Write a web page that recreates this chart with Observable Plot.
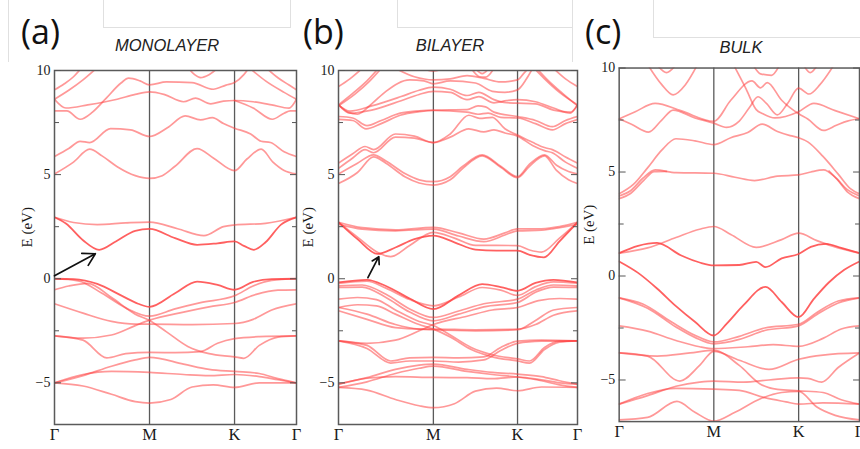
<!DOCTYPE html>
<html><head><meta charset="utf-8">
<script src="https://cdn.jsdelivr.net/npm/d3@7"></script>
<script src="https://cdn.jsdelivr.net/npm/@observablehq/plot@0.6"></script>
<style>
body{margin:0;background:#fff}
#root{position:relative;width:860px;height:449px;overflow:hidden;background:#fff}
.p{position:absolute;top:0}
.title{position:absolute;font-family:"Liberation Sans",Arial,sans-serif;font-style:italic;font-size:16.5px;color:#222;transform:translateX(-50%);white-space:nowrap;line-height:1}
.lab{position:absolute;font-family:"Open Sans",sans-serif;font-size:34px;color:#111;line-height:1}
.box{position:absolute;border:1px solid #e0e0e0;box-sizing:border-box}
.vl{position:absolute;width:1px;background:#e0e0e0}
</style></head><body><div id="root"></div><script>
// ---- axis data ----
const kLabels = ["Γ", "M", "K", "Γ"];
// path length of the high-symmetry points Γ, M, K, Γ (units of |ΓM|) per panel
const monoPath = [0, 1, 1.895, 2.547];
const biPath = [0, 1, 1.887, 2.519];
const bulkPath = [0, 1, 1.896, 2.539];
const yMajor = [-5, 0, 5, 10];
const yMinor = [-2.5, 2.5, 7.5];
const panelTitles = ["MONOLAYER", "BILAYER", "BULK"];
const panelLetters = ["(a)", "(b)", "(c)"];

// ---- (a) monolayer: [k, E] with k: Γ=0, M=1, K=2, Γ=3 ----
const monoEdge = [
  [[0,2.95],[0.12,2.65],[0.3,1.85],[0.47,1.39],[0.65,1.8],[0.85,2.3],[1,2.39],[1.3,1.95],[1.56,1.63],[1.8,1.7],[2,1.79],[2.15,1.58],[2.31,1.39],[2.5,1.75],[2.75,2.6],[3,2.95]],
  [[0,0],[0.2,-0.02],[0.45,-0.25],[0.7,-0.8],[0.88,-1.2],[1,-1.35],[1.3,-0.7],[1.56,-0.14],[1.8,-0.3],[2,-0.53],[2.3,-0.15],[2.6,-0.02],[3,0]]
];
const monoConduction = [
  [[0,2.95],[0.2,2.7],[0.45,2.6],[0.75,2.68],[1,2.72],[1.33,2.4],[1.64,2.07],[1.87,2.5],[2,2.58],[2.5,2.66],[3,2.95]],
  [[0,5.03],[0.2,5.6],[0.37,6.22],[0.5,5.9],[0.66,5.38],[0.85,4.95],[1,4.82],[1.15,4.95],[1.3,5.4],[1.56,6.25],[1.75,5.8],[2,5.19],[2.2,5.75],[2.43,6.22],[2.62,5.6],[2.8,5.2],[3,5.03]],
  [[0,5.87],[0.15,6.25],[0.27,6.6],[0.37,6.54],[0.59,7.21],[0.8,7.15],[1,6.83],[1.21,7.25],[1.42,7.82],[1.6,7.63],[1.74,7.74],[1.87,7.45],[2,7.23],[2.26,6.95],[2.43,6.6],[2.58,6.54],[2.8,6.1],[3,5.87]],
  [[0,8.62],[0.12,8.2],[0.35,8.35],[0.66,8.62],[0.85,8.85],[1,8.97],[1.17,8.85],[1.4,8.5],[1.54,8.67],[1.72,8.4],[1.87,8.53],[2,8.56],[2.3,8.5],[2.6,8.35],[2.88,8.19],[3,8.62]],
  [[0,8.06],[0.13,8.06],[0.27,7.66],[0.4,8.0],[0.55,8.7],[0.7,9.4],[0.78,9.63],[0.9,9.5],[1,9.31],[1.2,9.45],[1.5,9.42],[1.75,9.1],[1.9,9.3],[2,9.42],[2.15,9.8],[2.25,10.2]],
  [[2,8.56],[2.3,8.2],[2.61,7.66],[2.8,7.95],[2.9,8.06],[3,8.06]],
  [[0,9.07],[0.1,9.35],[0.2,9.7],[0.28,10.1]],
  [[0,8.62],[0.15,9.05],[0.3,9.55],[0.44,10.1]],
  [[2.52,10.1],[2.7,9.65],[2.88,9.3],[3,9.07]],
  [[2.25,10.1],[2.5,9.5],[2.8,8.95],[3,8.62]],
  [[1.46,10.1],[1.53,9.8],[1.6,9.66],[1.7,9.8],[1.8,10.1]]
];
const monoValence = [
  [[0,0],[0.25,-0.1],[0.5,-0.7],[0.75,-1.4],[1,-1.8],[1.3,-1.45],[1.6,-1.15],[2,-0.82],[2.3,-0.35],[2.6,-0.08],[3,0]],
  [[0,-0.53],[0.15,-0.35],[0.35,-0.22],[0.6,-0.9],[0.85,-1.7],[1,-2.0],[1.2,-2.55],[1.45,-3.25],[1.7,-3.6],[2,-3.75],[2.15,-3.82],[2.4,-3.2],[2.7,-2.8],[3,-2.74]],
  [[0,-1.2],[0.3,-1.65],[0.6,-2.05],[0.85,-2.18],[1,-2.18],[1.5,-2.2],[2,-2.15],[2.3,-1.95],[2.6,-1.5],[3,-1.2]],
  [[0,-2.74],[0.3,-2.85],[0.6,-2.7],[0.85,-2.25],[1,-1.99],[1.4,-1.6],[1.7,-1.35],[2,-1.14],[2.35,-0.75],[2.7,-0.55],[3,-0.53]],
  [[0,-2.74],[0.3,-2.95],[0.55,-3.8],[0.75,-3.6],[1,-3.54],[1.3,-3.55],[1.6,-3.5],[1.8,-3.1],[2,-2.88],[2.4,-2.78],[3,-2.74]],
  [[0,-5.0],[0.3,-4.65],[0.6,-4.2],[0.85,-3.9],[1,-3.78],[1.4,-4.1],[1.7,-4.35],[2,-4.45],[2.4,-4.55],[2.7,-4.8],[3,-5.0]],
  [[0,-5.0],[0.3,-4.6],[0.6,-4.45],[1,-4.5],[1.4,-4.6],[1.7,-4.65],[2,-4.6],[2.4,-4.7],[2.7,-4.85],[3,-5.0]],
  [[0,-5.0],[0.3,-5.15],[0.6,-5.55],[0.85,-5.9],[1,-5.97],[1.25,-5.8],[1.5,-5.2],[1.75,-5.1],[2,-5.22],[2.4,-5.0],[3,-5.0]]
];
const monoArrow = [{k1: 0, E1: 0.14, k2: 0.43, E2: 1.2}];

// ---- (b) bilayer ----
const biEdge = [
  [[0,2.71],[0.2,1.9],[0.41,1.19],[0.6,1.5],[0.8,1.9],[1,2.07],[1.25,1.75],[1.5,1.4],[1.75,1.35],[2,1.35],[2.2,1.15],[2.44,1.03],[2.7,1.8],[3,2.71]],
  [[0,-0.18],[0.3,-0.05],[0.5,-0.35],[0.75,-0.95],[1,-1.46],[1.3,-0.8],[1.58,-0.26],[1.8,-0.4],[2,-0.58],[2.3,-0.2],[2.6,-0.05],[3,-0.18]]
];
const biConduction = [
  [[0,2.71],[0.2,2.0],[0.4,1.3],[0.55,1.06],[0.75,1.6],[1,2.23],[1.25,1.95],[1.5,1.6],[1.75,1.6],[2,1.59],[2.2,1.38],[2.4,1.28],[2.7,1.95],[3,2.71]],
  [[0,2.71],[0.25,2.45],[0.6,2.35],[1,2.47],[1.3,2.2],[1.6,1.9],[1.85,2.2],[2,2.39],[2.4,2.4],[2.7,2.5],[3,2.71]],
  [[0,2.62],[0.25,2.38],[0.6,2.3],[1,2.38],[1.3,2.05],[1.6,1.78],[1.85,2.1],[2,2.3],[2.4,2.33],[2.7,2.45],[3,2.62]],
  [[0,5.03],[0.2,5.55],[0.37,5.95],[0.5,5.65],[0.7,5.05],[0.85,4.75],[1,4.66],[1.2,4.9],[1.35,5.4],[1.58,5.95],[1.8,5.4],[2,4.9],[2.2,5.5],[2.45,5.95],[2.65,5.45],[2.85,5.15],[3,5.03]],
  [[0,4.57],[0.2,5.1],[0.37,5.85],[0.5,5.55],[0.7,4.9],[0.85,4.6],[1,4.5],[1.2,4.75],[1.35,5.3],[1.58,5.9],[1.8,5.35],[2,4.85],[2.2,5.4],[2.45,5.9],[2.65,5.2],[2.85,4.75],[3,4.57]],
  [[0,5.55],[0.15,6.0],[0.28,6.35],[0.37,6.2],[0.6,6.95],[0.8,6.85],[1,6.54],[1.2,6.95],[1.42,7.85],[1.55,7.7],[1.7,7.75],[1.85,7.2],[2,6.9],[2.25,6.55],[2.45,6.3],[2.58,6.2],[2.8,5.85],[3,5.55]],
  [[0,5.3],[0.15,5.8],[0.28,6.2],[0.37,6.05],[0.6,6.8],[0.8,6.75],[1,6.54],[1.2,6.8],[1.42,7.2],[1.6,7.05],[1.72,7.15],[1.85,7.0],[2,6.85],[2.25,6.4],[2.45,6.15],[2.58,6.05],[2.8,5.6],[3,5.3]],
  [[0,7.79],[0.15,7.72],[0.3,7.35],[0.45,7.6],[0.65,7.95],[0.85,8.06],[1,8.1],[1.4,8.12],[1.53,8.3],[1.62,8.25],[1.72,8.0],[2,7.79],[2.3,7.6],[2.58,7.3],[2.8,7.6],[3,7.79]],
  [[0,7.65],[0.15,7.6],[0.29,7.2],[0.45,7.45],[0.65,7.85],[0.85,8.02],[1,8.08],[1.4,8.0],[1.53,7.9],[1.65,7.95],[1.8,7.75],[2,7.72],[2.3,7.45],[2.58,7.15],[2.8,7.45],[3,7.65]],
  [[0,8.35],[0.12,7.95],[0.35,8.1],[0.66,8.55],[0.85,8.85],[1,9.0],[1.2,8.95],[1.4,8.6],[1.54,8.75],[1.72,8.45],[1.87,8.55],[2,8.6],[2.3,8.5],[2.6,8.2],[2.88,7.95],[3,8.35]],
  [[0,8.35],[0.12,8.05],[0.35,8.3],[0.66,8.75],[0.85,9.05],[1,9.2],[1.2,9.1],[1.4,8.8],[1.54,8.95],[1.72,8.6],[1.87,8.45],[2,8.43],[2.3,8.4],[2.6,8.1],[2.88,8.0],[3,8.35]],
  [[0,8.35],[0.1,8.0],[0.2,7.9],[0.35,8.4],[0.5,9.0],[0.75,9.55],[0.9,9.5],[1,9.36],[1.2,9.5],[1.5,9.4],[1.7,9.0],[1.85,8.95],[2,9.07],[2.15,9.6],[2.25,10.1]],
  [[0.6,10.1],[0.8,9.7],[1,9.55],[1.2,9.6],[1.4,9.75],[1.6,9.62],[1.8,9.45],[2,9.55],[2.1,9.85],[2.18,10.1]],
  [[0,8.35],[0.15,8.9],[0.3,9.5],[0.42,10.1]],
  [[0,8.3],[0.17,8.85],[0.32,9.45],[0.45,10.1]],
  [[0,9.23],[0.12,9.6],[0.25,10.1]],
  [[2.28,10.1],[2.45,9.6],[2.7,8.95],[3,8.35]],
  [[2.32,10.1],[2.5,9.55],[2.75,8.9],[3,8.3]],
  [[2.6,10.1],[2.8,9.6],[3,9.23]],
  [[0.88,10.1],[1,9.97],[1.12,10.1]],
  [[1.45,10.1],[1.55,9.7],[1.62,9.68],[1.72,10.1]],
  [[1.5,10.1],[1.58,9.85],[1.66,10.1]]
];
const biValence = [
  [[0,-0.22],[0.3,-0.12],[0.5,-0.45],[0.75,-1.0],[1,-1.3],[1.3,-0.88],[1.58,-0.42],[1.8,-0.55],[2,-0.8],[2.3,-0.38],[2.6,-0.15],[3,-0.22]],
  [[0,-0.34],[0.25,-0.3],[0.5,-0.75],[0.75,-1.45],[1,-1.86],[1.3,-1.55],[1.6,-1.2],[2,-0.98],[2.3,-0.55],[2.6,-0.3],[3,-0.34]],
  [[0,-0.42],[0.25,-0.4],[0.5,-0.9],[0.75,-1.6],[1,-2.02],[1.3,-1.7],[1.6,-1.35],[2,-1.14],[2.3,-0.65],[2.6,-0.4],[3,-0.42]],
  [[0,-0.98],[0.2,-0.9],[0.4,-1.0],[0.6,-1.5],[0.85,-2.05],[1,-2.25],[1.2,-2.7],[1.45,-3.3],[1.7,-3.65],[2,-3.85],[2.2,-3.95],[2.45,-3.3],[2.7,-3.0],[3,-2.98]],
  [[0,-1.38],[0.2,-1.25],[0.4,-1.3],[0.6,-1.7],[0.85,-2.2],[1,-2.42],[1.2,-2.8],[1.45,-3.4],[1.7,-3.75],[2,-3.95],[2.2,-4.05],[2.45,-3.4],[2.7,-3.05],[3,-2.98]],
  [[0,-1.54],[0.3,-1.95],[0.6,-2.35],[0.85,-2.42],[1,-2.42],[1.5,-2.45],[2,-2.42],[2.3,-2.2],[2.6,-1.75],[3,-1.54]],
  [[0,-1.38],[0.3,-1.7],[0.6,-2.2],[0.85,-2.42],[1,-2.45],[1.5,-2.5],[2,-2.45],[2.3,-2.0],[2.6,-1.5],[3,-1.38]],
  [[0,-2.98],[0.3,-3.1],[0.6,-2.95],[0.85,-2.5],[1,-2.2],[1.4,-1.8],[1.7,-1.5],[2,-1.38],[2.35,-1.05],[2.7,-0.95],[3,-0.98]],
  [[0,-2.98],[0.3,-3.2],[0.55,-3.95],[0.75,-3.8],[1,-3.78],[1.3,-3.8],[1.6,-3.75],[1.8,-3.3],[2,-3.0],[2.4,-2.95],[3,-2.98]],
  [[0,-2.98],[0.3,-3.35],[0.55,-4.05],[0.75,-3.95],[1,-3.95],[1.3,-4.0],[1.6,-3.9],[1.8,-3.45],[2,-3.1],[2.4,-3.0],[3,-2.98]],
  [[0,-5.06],[0.3,-4.75],[0.6,-4.35],[0.85,-4.15],[1,-4.1],[1.4,-4.35],[1.7,-4.5],[2,-4.58],[2.4,-4.7],[2.7,-4.9],[3,-5.06]],
  [[0,-5.06],[0.3,-4.78],[0.6,-4.7],[1,-4.74],[1.4,-4.75],[1.7,-4.8],[2,-4.72],[2.4,-4.85],[2.7,-5.0],[3,-5.06]],
  [[0,-5.22],[0.3,-5.35],[0.6,-5.8],[0.85,-6.1],[1,-6.19],[1.25,-6.0],[1.5,-5.4],[1.75,-5.25],[2,-5.38],[2.4,-5.2],[3,-5.22]],
  [[0,-5.22],[0.3,-4.95],[0.6,-4.55],[0.85,-4.3],[1,-4.2],[1.4,-4.45],[1.7,-4.6],[2,-4.72],[2.4,-4.9],[2.7,-5.1],[3,-5.22]]
];
const biArrow = [{k1: 0.31, E1: 0.05, k2: 0.425, E2: 1.06}];

// ---- (c) bulk ----
const bulkEdge = [
  [[0,1.1],[0.2,1.45],[0.4,1.59],[0.65,1.0],[0.85,0.65],[1,0.51],[1.3,0.53],[1.5,0.68],[1.61,0.43],[1.8,0.85],[2,1.06],[2.2,1.4],[2.45,1.55],[2.7,1.35],[3,1.1]],
  [[0,0.7],[0.2,0.15],[0.4,-0.6],[0.6,-1.45],[0.8,-2.2],[1,-2.86],[1.15,-2.3],[1.35,-1.4],[1.61,-0.52],[1.8,-1.25],[2,-1.98],[2.25,-1.1],[2.5,-0.3],[2.75,0.3],[3,0.7]]
];
const bulkConduction = [
  [[0,1.1],[0.3,1.35],[0.6,1.85],[0.85,2.25],[1,2.38],[1.2,2.0],[1.5,1.38],[1.8,1.75],[2,2.06],[2.3,1.7],[2.65,1.35],[3,1.1]],
  [[0,3.85],[0.12,4.1],[0.25,4.7],[0.38,5.1],[0.6,4.97],[1,4.94],[1.25,4.75],[1.48,4.59],[1.75,4.8],[2,4.86],[2.2,5.0],[2.41,5.1],[2.6,4.75],[2.8,4.15],[3,3.85]],
  [[0,3.72],[0.12,3.97],[0.26,4.6],[0.37,5.02],[0.5,5.03]],
  [[2.5,5.05],[2.63,4.65],[2.8,4.05],[3,3.72]],
  [[0,3.95],[0.15,4.4],[0.3,5.2],[0.45,6.05],[0.6,6.6],[0.8,6.5],[1,6.32],[1.2,6.65],[1.4,6.9],[1.57,7.3],[1.75,6.95],[1.9,6.75],[2,6.65],[2.15,6.45],[2.4,5.75],[2.65,4.9],[2.85,4.2],[3,3.95]],
  [[0,7.56],[0.17,7.9],[0.38,8.3],[0.65,7.95],[1,7.44],[1.2,8.45],[1.45,9.38],[1.55,9.05],[1.63,9.3],[1.8,8.45],[2,7.8],[2.15,7.55],[2.41,7.0],[2.62,7.25],[2.8,7.45],[3,7.56]],
  [[0,7.56],[0.13,7.3],[0.31,6.92],[0.45,7.5],[0.57,7.98],[0.8,7.6],[1,7.35],[1.15,7.15],[1.3,7.45],[1.42,8.1],[1.52,8.62],[1.62,8.3],[1.75,7.75],[1.87,8.3],[2,9.03],[2.17,8.75],[2.35,9.2],[2.57,10.1]],
  [[1.24,10.1],[1.38,9.0],[1.5,8.0],[1.58,7.8],[1.72,7.6],[2,7.9],[2.25,8.3],[2.6,7.95],[3,7.56]],
  [[0.31,10.1],[0.45,9.2],[0.57,8.71],[0.7,9.2],[0.82,10.1]],
  [[0.41,10.1],[0.5,9.78],[0.59,10.1]],
  [[1.47,10.1],[1.55,9.72],[1.68,9.65],[1.77,10.1]],
  [[2.09,10.1],[2.19,9.78],[2.3,10.1]]
];
const bulkValence = [
  [[0,-1.05],[0.25,-1.35],[0.55,-2.2],[0.8,-2.85],[1,-3.17],[1.3,-2.9],[1.6,-2.5],[2,-2.32],[2.3,-1.75],[2.65,-1.2],[3,-1.05]],
  [[0,-1.05],[0.3,-1.55],[0.6,-2.45],[0.8,-2.95],[1,-3.26],[1.3,-3.05],[1.6,-2.62],[2,-2.4],[2.3,-1.85],[2.65,-1.3],[3,-1.05]],
  [[0,-2.4],[0.3,-2.65],[0.6,-3.1],[0.85,-3.4],[1,-3.49],[1.4,-3.4],[1.7,-3.3],[2,-3.38],[2.4,-3.0],[2.7,-2.55],[3,-2.4]],
  [[0,-3.7],[0.3,-3.85],[0.64,-5.05],[0.85,-4.3],[1,-3.62],[1.3,-4.05],[1.65,-4.49],[2,-4.0],[2.4,-3.8],[3,-3.7]],
  [[0,-3.7],[0.4,-3.85],[0.75,-3.7],[1,-3.58],[1.3,-4.3],[1.55,-5.2],[1.75,-5.45],[2,-5.52],[2.4,-5.6],[2.7,-5.95],[3,-6.16]],
  [[0,-6.16],[0.3,-5.75],[0.6,-5.3],[0.85,-5.1],[1,-5.05],[1.35,-5.1],[1.65,-5.0],[2,-4.9],[2.15,-4.92],[2.38,-5.1],[2.65,-4.4],[3,-3.7]],
  [[0,-6.16],[0.3,-5.65],[0.6,-5.4],[1,-5.44],[1.3,-5.5],[1.6,-5.85],[1.85,-6.05],[2,-6.16],[2.4,-6.1],[3,-6.16]],
  [[0,-6.92],[0.3,-6.8],[0.61,-6.03],[0.8,-6.55],[1,-6.98],[1.25,-6.55],[1.55,-5.9],[1.8,-5.6],[2,-5.55],[2.3,-6.3],[2.6,-6.7],[3,-6.92]]
];

// ---- drawing ----
// convert segment coordinate k (Γ=0, M=1, K=2, Γ=3) to path length along Γ-M-K-Γ
function pathPos(path, k) {
  const i = Math.min(2, Math.floor(k));
  return path[i] + (k - i) * (path[i + 1] - path[i]);
}
function rows(bands, tag, path) {
  return bands.flatMap((b, i) => b.map(([k, E]) => ({band: tag + i, q: pathPos(path, k), E})));
}
const lineStyle = {x: "q", y: "E", z: "band", curve: "monotone-x", stroke: "#ff4444", clip: true};
function panel(o) {
  const path = o.path;
  const regular = rows(o.conduction, "c", path).concat(rows(o.valence, "v", path));
  const tickOpts = (anchor, ticks, size) =>
    Plot.axisY({anchor, ticks, tickSize: size, dx: anchor === "left" ? size : -size, tickFormat: () => "", stroke: "#555"});
  const arrows = (o.arrow || []).map(a => ({x1: pathPos(path, a.k1), y1: a.E1, x2: pathPos(path, a.k2), y2: a.E2}));
  return Plot.plot({
    width: o.width, height: 449,
    marginTop: o.marginTop, marginBottom: 25, marginLeft: o.marginLeft, marginRight: o.marginRight,
    x: {domain: [0, path[3]], label: null},
    y: {domain: [-7, 10], label: null},
    style: {fontFamily: "'Liberation Serif','Times New Roman',serif", fontSize: "14px", color: "#1a1a1a", background: "transparent", overflow: "visible"},
    marks: [
      Plot.ruleX([path[1], path[2]], {stroke: "#5a5a5a", strokeWidth: 1.3}),
      Plot.line(regular, {...lineStyle, strokeOpacity: 0.55, strokeWidth: 1.7}),
      Plot.line(rows(o.edge, "e", path), {...lineStyle, strokeOpacity: 0.85, strokeWidth: 1.8}),
      Plot.frame({stroke: "#5a5a5a", strokeWidth: 1.5}),
      tickOpts("left", yMajor, 7), tickOpts("right", yMajor, 7),
      tickOpts("left", yMinor, 5), tickOpts("right", yMinor, 5),
      Plot.axisX({ticks: path, tickFormat: (d, i) => kLabels[i], tickSize: 0, tickPadding: 4, fontSize: 16.5}),
      Plot.axisY({ticks: yMajor, tickSize: 0, tickPadding: 4, fontSize: 14}),
      Plot.text(["E (eV)"], {frameAnchor: "left", rotate: -90, dx: o.labelDx, fontSize: 15}),
      arrows.length ? Plot.arrow(arrows, {x1: "x1", y1: "y1", x2: "x2", y2: "y2", stroke: "#111", strokeWidth: 1.7, headLength: 12}) : null
    ]
  });
}

const root = document.getElementById("root");
function add(el, left) { const d = document.createElement("div"); d.className = "p"; d.style.left = left + "px"; d.appendChild(el); root.appendChild(d); }
function deco(cls, css, text) { const d = document.createElement("div"); d.className = cls; Object.assign(d.style, css); if (text) d.textContent = text; root.appendChild(d); }

// faint screenshot boxes
deco("box", {left: "103px", top: "-1px", width: "188px", height: "29px"});
deco("vl", {left: "8px", top: "0px", height: "62px"});
deco("box", {left: "397px", top: "-1px", width: "176px", height: "29px"});
deco("box", {left: "653px", top: "-1px", width: "220px", height: "39px"});
deco("vl", {left: "572px", top: "0px", height: "62px"});

add(panel({conduction: monoConduction, valence: monoValence, edge: monoEdge, arrow: monoArrow, path: monoPath,
  width: 300, marginLeft: 54, marginRight: 4, marginTop: 70, labelDx: -27}), 0);
add(panel({conduction: biConduction, valence: biValence, edge: biEdge, arrow: biArrow, path: biPath,
  width: 290, marginLeft: 48, marginRight: 3, marginTop: 70, labelDx: -30}), 290);
add(panel({conduction: bulkConduction, valence: bulkValence, edge: bulkEdge, arrow: null, path: bulkPath,
  width: 292, marginLeft: 49, marginRight: 1, marginTop: 68, labelDx: -30}), 570);

deco("title", {left: "167px", top: "36.7px"}, panelTitles[0]);
deco("title", {left: "450px", top: "36.7px"}, panelTitles[1]);
deco("title", {left: "741px", top: "39.3px"}, panelTitles[2]);
deco("lab", {left: "21px", top: "14px"}, panelLetters[0]);
deco("lab", {left: "303px", top: "14px"}, panelLetters[1]);
deco("lab", {left: "585px", top: "14px"}, panelLetters[2]);
</script></body></html>
